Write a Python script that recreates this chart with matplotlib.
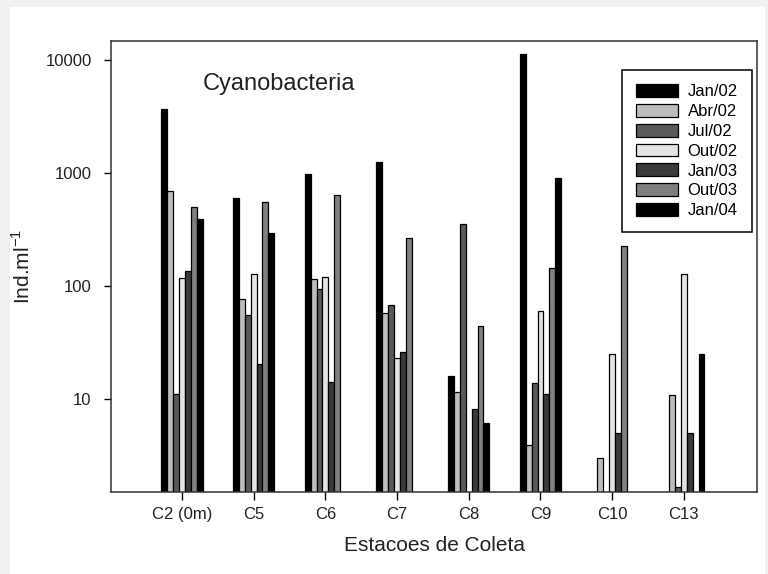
import numpy as np
import matplotlib
matplotlib.use('Agg')
import matplotlib.pyplot as plt
from matplotlib.patches import Rectangle

plt.rcParams['font.family'] = ['Liberation Sans', 'DejaVu Sans']

# data (nan = no bar)
stations = ['C2 (0m)', 'C5', 'C6', 'C7', 'C8', 'C9', 'C10', 'C13']
months = ['Jan/02', 'Abr/02', 'Jul/02', 'Out/02', 'Jan/03', 'Out/03', 'Jan/04']
nan = np.nan
jan02 = [3680, 597, 980, 1245, 16, 11300, nan, nan]
abr02 = [697, 77, 115, 57, 11.5, 3.9, 3.0, 10.8]
jul02 = [11, 55, 93, 68, 352, 13.8, nan, 1.66]
out02 = [118, 128, 121, 22.9, nan, 60, 25, 128]
jan03 = [136, 20.4, 14.2, 25.9, 8.2, 11.1, 5.0, 5.0]
out03 = [500, 550, 638, 266, 44.5, 145, 226, nan]
jan04 = [394, 293, nan, nan, 6.1, 898, nan, 25]
series = [jan02, abr02, jul02, out02, jan03, out03, jan04]
colors = ['#000000', '#bdbdbd', '#5a5a5a', '#e4e4e4', '#3a3a3a', '#808080', '#000000']

fig = plt.figure(figsize=(7.68, 5.74), dpi=100, facecolor='#f1f1f1')
# white page inside a light grey border
fig.patches.append(Rectangle((10/768, 0), 755/768, 567/574, transform=fig.transFigure,
                             facecolor='white', edgecolor='none', zorder=-1))
ax = fig.add_axes([111/768, 82/574, 646/768, 451/574])
ax.set_yscale('log')

x = np.arange(len(stations))
w = 0.082
for i, (vals, c, lab) in enumerate(zip(series, colors, months)):
    ax.bar(x + (i - 3) * w, vals, width=w, color=c, edgecolor='black', linewidth=0.9, label=lab)

ax.set_xlim(-0.99, 8.02)
ax.set_ylim(1.5, 14700)
ax.set_xticks(x)
ax.set_xticklabels(stations, fontsize=12, color='#222222')
ax.set_yticks([10, 100, 1000, 10000])
ax.set_yticklabels(['10', '100', '1000', '10000'], fontsize=12, color='#222222')
ax.yaxis.set_minor_locator(matplotlib.ticker.NullLocator())
ax.tick_params(axis='y', length=5, width=1, pad=9)
ax.tick_params(axis='x', length=6, width=1, pad=5)
for s in ax.spines.values():
    s.set_linewidth(1.1)
    s.set_color('#333333')

ax.set_xlabel('Estacoes de Coleta', fontsize=15, color='#222222', labelpad=10)
ax.set_ylabel('Ind.ml$^{\\mathregular{-1}}$', fontsize=15, color='#222222', labelpad=8)
ax.text(0.142, 0.905, 'Cyanobacteria', transform=ax.transAxes, fontsize=17, color='#222222',
        va='center', ha='left')

leg = ax.legend(loc='upper right', bbox_to_anchor=(0.9923, 0.9357), borderaxespad=0,
                fontsize=12, handlelength=2.5, handleheight=0.8, labelspacing=0.28,
                handletextpad=0.6, borderpad=0.85, fancybox=False, framealpha=1)
leg.get_frame().set_edgecolor('black')
leg.get_frame().set_linewidth(1.1)

plt.savefig('out.png', dpi=100, facecolor=fig.get_facecolor())
